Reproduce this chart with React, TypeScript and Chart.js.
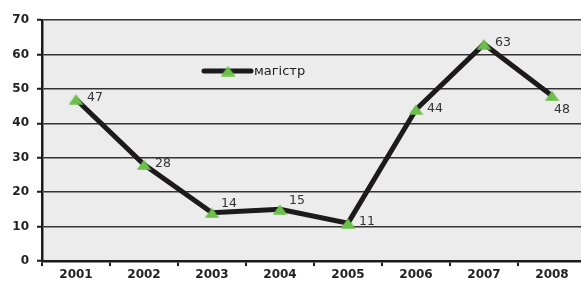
import { useEffect, useRef } from "react";
import { Chart, registerables } from "chart.js";

Chart.register(...registerables);

const years = ["2001", "2002", "2003", "2004", "2005", "2006", "2007", "2008"];
const masters = [47, 28, 14, 15, 11, 44, 63, 48];
const seriesName = "магістр";
const yMin = 0;
const yMax = 70;
const yStep = 10;
const labelPlacement = ["right", "right", "above", "above", "right", "right", "right", "below"];

const LINE = "#1c1a1a";
const GREEN = "#6cbf4a";
const GRID = "#333333";
const PLOT_BG = "#ececec";
const TXT = "#222222";

function makeTriangle(): HTMLCanvasElement {
  const c = document.createElement("canvas");
  c.width = 15;
  c.height = 11;
  const g = c.getContext("2d")!;
  g.fillStyle = GREEN;
  g.beginPath();
  g.moveTo(7.5, 0.5);
  g.lineTo(14.8, 10.8);
  g.lineTo(0.2, 10.8);
  g.closePath();
  g.fill();
  return c;
}

export default function App() {
  const ref = useRef<HTMLCanvasElement | null>(null);

  useEffect(() => {
    if (!ref.current) return;
    const tri = makeTriangle();

    const bgPlugin = {
      id: "plotBg",
      beforeDraw(chart: any) {
        const { ctx, chartArea: a } = chart;
        ctx.save();
        ctx.fillStyle = PLOT_BG;
        ctx.fillRect(a.left, a.top, a.right - a.left, a.bottom - a.top);
        ctx.restore();
      },
    };

    const labelPlugin = {
      id: "valueLabels",
      afterDatasetsDraw(chart: any) {
        const { ctx } = chart;
        const meta = chart.getDatasetMeta(0);
        ctx.save();
        ctx.font = "12.5px 'DejaVu Sans'";
        ctx.fillStyle = "#333333";
        ctx.textBaseline = "middle";
        meta.data.forEach((pt: any, i: number) => {
          const v = String(masters[i]);
          const p = labelPlacement[i];
          if (p === "below") {
            ctx.textAlign = "center";
            ctx.fillText(v, pt.x + 10, pt.y + 14);
          } else if (p === "above") {
            ctx.textAlign = "left";
            ctx.fillText(v, pt.x + 9, pt.y - 9);
          } else {
            ctx.textAlign = "left";
            ctx.fillText(v, pt.x + 11, pt.y - 1);
          }
        });
        ctx.restore();
      },
      afterDraw(chart: any) {
        const { ctx, chartArea: a } = chart;
        const x0 = a.left + 162;
        const y0 = a.top + 51;
        ctx.save();
        ctx.strokeStyle = LINE;
        ctx.lineWidth = 5;
        ctx.lineCap = "round";
        ctx.beginPath();
        ctx.moveTo(x0, y0);
        ctx.lineTo(x0 + 47, y0);
        ctx.stroke();
        ctx.drawImage(tri, x0 + 24 - 7.5, y0 - 5.5);
        ctx.font = "13px 'DejaVu Sans'";
        ctx.fillStyle = TXT;
        ctx.textBaseline = "middle";
        ctx.textAlign = "left";
        ctx.fillText(seriesName, x0 + 50, y0 + 1);
        ctx.restore();
      },
    };

    const chart = new Chart(ref.current, {
      type: "line",
      data: {
        labels: years,
        datasets: [
          {
            label: seriesName,
            data: masters,
            borderColor: LINE,
            borderWidth: 5,
            tension: 0,
            pointStyle: tri as any,
            pointRadius: 7,
            pointBackgroundColor: GREEN,
            pointBorderColor: GREEN,
          },
        ],
      },
      options: {
        responsive: false,
        animation: false,
        layout: { padding: { top: 20, right: 4, left: 0, bottom: 0 } },
        plugins: {
          legend: { display: false },
          tooltip: { enabled: false },
          title: { display: false },
        },
        scales: {
          x: {
            offset: true,
            grid: {
              offset: true,
              drawOnChartArea: false,
              drawTicks: true,
              tickLength: 5,
              color: LINE,
              lineWidth: 2,
            },
            border: { display: true, color: LINE, width: 2.5 },
            ticks: {
              color: TXT,
              font: { family: "'DejaVu Sans'", size: 12, weight: "bold" },
              padding: 2,
              maxRotation: 0,
              autoSkip: false,
            },
            afterFit(scale: any) {
              scale.height = 21;
            },
          },
          y: {
            min: yMin,
            max: yMax,
            ticks: {
              stepSize: yStep,
              color: TXT,
              font: { family: "'DejaVu Sans'", size: 12, weight: "bold" },
              padding: 8,
            },
            grid: {
              color: GRID,
              lineWidth: 1.5,
              drawTicks: true,
              tickLength: 5,
              tickColor: LINE,
              tickWidth: 2,
            },
            border: { display: true, color: LINE, width: 2.5 },
            afterFit(scale: any) {
              scale.width = 42;
            },
          },
        },
      },
      plugins: [bgPlugin, labelPlugin],
    });

    return () => chart.destroy();
  }, []);

  return (
    <div
      style={{
        position: "absolute",
        left: 0,
        top: 0,
        width: 581,
        height: 282,
        overflow: "hidden",
        background: "#ffffff",
      }}
    >
      <canvas ref={ref} width={598} height={282} style={{ display: "block", width: 598, height: 282 }} />
    </div>
  );
}
